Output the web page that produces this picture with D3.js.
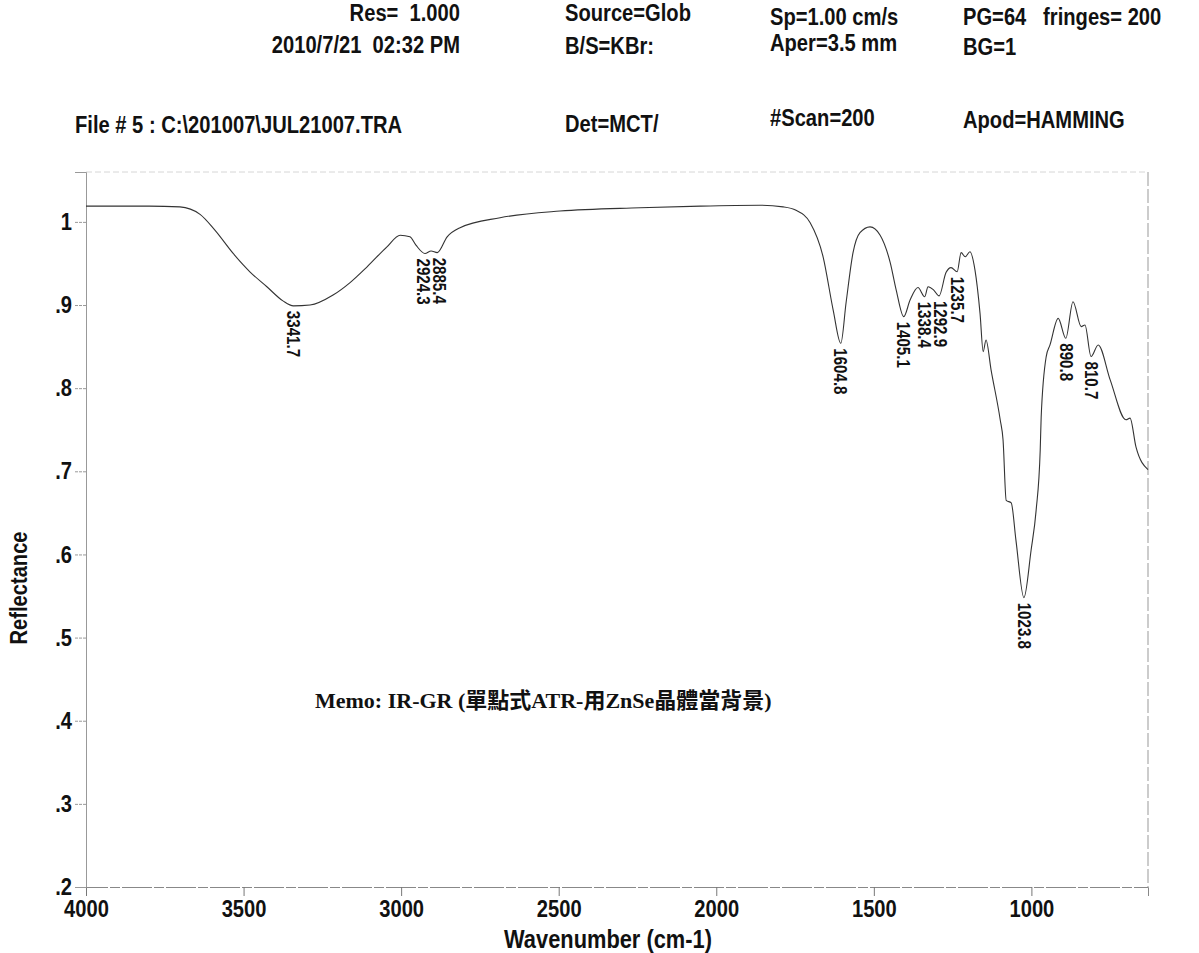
<!DOCTYPE html>
<html>
<head>
<meta charset="utf-8">
<script src="https://cdn.jsdelivr.net/npm/d3@7"></script>
<style>
  body { margin: 0; background: #fff; }
  text { font-family: 'Liberation Sans', Arial, sans-serif; font-weight: bold; fill: #111; white-space: pre; }
</style>
</head>
<body>
<div id="chart"></div>
<script>
// spectrum (wavenumber cm-1, reflectance)
var wavenumbers = [4000, 3900, 3800, 3702, 3638, 3591, 3533, 3480, 3426, 3375, 3341.7, 3289, 3216, 3162, 3108,
  3045, 3003, 2972, 2953, 2924.3, 2905, 2885.4, 2854, 2813, 2686, 2496, 2242, 2051, 1861, 1788, 1747, 1702,
  1661, 1629, 1604.8, 1588, 1566, 1544, 1512, 1480, 1448, 1429, 1405.1, 1385, 1360, 1338.4, 1328, 1310,
  1292.9, 1271, 1255, 1235.7, 1223, 1210, 1195, 1179, 1163, 1153, 1144, 1128, 1099, 1090, 1080, 1064, 1049,
  1023.8, 1001, 985, 972, 969, 953, 941, 915, 890.8, 868, 842, 830, 810.7, 788, 750, 700, 687, 668, 630];
var reflectance = [1.019, 1.019, 1.019, 1.018, 1.009, 0.990, 0.962, 0.940, 0.922, 0.905, 0.899, 0.900, 0.912, 0.927, 0.946,
  0.970, 0.984, 0.982, 0.972, 0.962, 0.965, 0.963, 0.982, 0.993, 1.005, 1.013, 1.017, 1.019, 1.020, 1.018, 1.014, 0.999,
  0.958, 0.894, 0.854, 0.903, 0.963, 0.987, 0.994, 0.984, 0.951, 0.918, 0.886, 0.906, 0.921, 0.910, 0.922, 0.918,
  0.911, 0.939, 0.945, 0.940, 0.963, 0.958, 0.964, 0.942, 0.890, 0.844, 0.858, 0.822, 0.762, 0.738, 0.665, 0.662, 0.617,
  0.548, 0.605, 0.653, 0.726, 0.765, 0.838, 0.852, 0.884, 0.860, 0.904, 0.874, 0.876, 0.838, 0.852, 0.810, 0.762, 0.764, 0.729, 0.702];

var peakLabels = [3341.7, 2924.3, 2885.4, 1604.8, 1405.1, 1338.4, 1292.9, 1235.7, 1023.8, 890.8, 810.7];

var xTicks = [4000, 3500, 3000, 2500, 2000, 1500, 1000];
var yTicks = [0.2, 0.3, 0.4, 0.5, 0.6, 0.7, 0.8, 0.9, 1];

// header block, one array per column (top to bottom)
var headerCol1 = ['Res=  1.000', '2010/7/21  02:32 PM', 'File # 5 : C:\\201007\\JUL21007.TRA'];
var headerCol2 = ['Source=Glob', 'B/S=KBr:', 'Det=MCT/'];
var headerCol3 = ['Sp=1.00 cm/s', 'Aper=3.5 mm', '#Scan=200'];
var headerCol4 = ['PG=64   fringes= 200', 'BG=1', 'Apod=HAMMING'];

var memoText = 'Memo: IR-GR (單點式ATR-用ZnSe晶體當背景)';
var xTitle = 'Wavenumber (cm-1)';
var yTitle = 'Reflectance';

var W = 1199, H = 953;
var plot = {left: 86, right: 1148, top: 172, bottom: 887};
var narrow = 0.84; // printer font is a condensed bold sans

var svg = d3.select('#chart').append('svg')
  .attr('width', W)
  .attr('height', H);

var x = d3.scaleLinear().domain([4000, 630]).range([plot.left, plot.right]);
var y = d3.scaleLinear().domain([0.2, 1.06]).range([plot.bottom, plot.top]);

// frame: faint dashed top, dashed right
svg.append('line')
  .attr('x1', plot.left).attr('x2', plot.right)
  .attr('y1', plot.top).attr('y2', plot.top)
  .style('stroke', '#d6d6d6').style('stroke-dasharray', '6,3');
svg.append('line')
  .attr('x1', plot.right).attr('x2', plot.right)
  .attr('y1', plot.top).attr('y2', plot.bottom)
  .style('stroke', '#999').style('stroke-dasharray', '14,3');

// x axis
var xAxis = svg.append('g')
  .attr('transform', 'translate(0,' + plot.bottom + ')')
  .call(d3.axisBottom(x).tickValues(xTicks).tickSize(9).tickPadding(4).tickFormat(d3.format('d')));
xAxis.select('.domain').style('stroke', '#888').style('stroke-dasharray', '30,2,10,2');
xAxis.selectAll('.tick line').style('stroke', '#777');
xAxis.selectAll('.tick text')
  .attr('transform', 'scale(' + narrow + ',1)')
  .style('font-size', '24px').style('fill', '#111');

// y axis
var yAxis = svg.append('g')
  .attr('transform', 'translate(' + plot.left + ',0)')
  .call(d3.axisLeft(y).tickValues(yTicks).tickSize(11).tickPadding(3)
    .tickFormat(function (d) { return d === 1 ? '1' : d3.format('.1f')(d).replace(/^0/, ''); }));
yAxis.select('.domain').style('stroke', '#999');
yAxis.selectAll('.tick line').style('stroke', '#999').style('stroke-dasharray', '3,1');
yAxis.selectAll('.tick text')
  .attr('x', -14 / narrow)
  .attr('transform', 'scale(' + narrow + ',1)')
  .style('font-size', '24px').style('fill', '#111');

// spectrum
var points = wavenumbers.map(function (w, i) { return [w, reflectance[i]]; });
var line = d3.line()
  .x(function (d) { return x(d[0]); })
  .y(function (d) { return y(d[1]); })
  .curve(d3.curveMonotoneX);

svg.append('path')
  .datum(points)
  .attr('d', line)
  .style('fill', 'none')
  .style('stroke', '#333')
  .style('stroke-width', 1.1);

// peak labels, rotated, hung below each minimum; nudge neighbours that collide
var labels = peakLabels.map(function (p) {
  var i = wavenumbers.indexOf(p);
  return {text: d3.format('.1f')(p), px: x(p), py: y(reflectance[i]) + 5};
});
labels.sort(function (a, b) { return a.px - b.px; });
for (var k = 1; k < labels.length; k++) {
  var gap = labels[k].px - labels[k - 1].px;
  if (gap < 16) {
    labels[k - 1].px -= (16 - gap) / 2;
    labels[k].px += (16 - gap) / 2;
  }
}
svg.selectAll('.peak')
  .data(labels)
  .enter()
  .append('text')
  .attr('class', 'peak')
  .attr('transform', function (d) {
    return 'translate(' + d.px + ',' + d.py + ') rotate(90) scale(' + narrow + ',1)';
  })
  .attr('dy', '0.35em')
  .style('font-size', '18px')
  .text(function (d) { return d.text; });

// header
var headerCols = [
  {lines: headerCol1, x: 460, anchor: 'end', rows: [21, 53, 133]},
  {lines: headerCol2, x: 565, anchor: 'start', rows: [21, 54, 132]},
  {lines: headerCol3, x: 770, anchor: 'start', rows: [25, 51, 126]},
  {lines: headerCol4, x: 963, anchor: 'start', rows: [25, 55, 128]}
];
headerCols.forEach(function (c, ci) {
  svg.selectAll('.hdr' + ci)
    .data(c.lines)
    .enter()
    .append('text')
    .attr('transform', function (d, i) {
      var hx = (ci === 0 && i === 2) ? 75 : c.x;
      return 'translate(' + hx + ',' + c.rows[i] + ') scale(' + narrow + ',1)';
    })
    .style('text-anchor', function (d, i) { return (ci === 0 && i === 2) ? 'start' : c.anchor; })
    .style('font-size', '24px')
    .text(function (d) { return d; });
});

// memo
svg.append('text')
  .attr('x', 315)
  .attr('y', 708)
  .style('font-family', "'Liberation Serif', 'Noto Sans CJK TC', serif")
  .style('font-size', '22px')
  .text(memoText);

// axis titles
svg.append('text')
  .attr('transform', 'translate(608,948) scale(' + narrow + ',1)')
  .style('text-anchor', 'middle')
  .style('font-size', '26px')
  .text(xTitle);

svg.append('text')
  .attr('transform', 'translate(27,588) rotate(-90) scale(' + narrow + ',1)')
  .style('text-anchor', 'middle')
  .style('font-size', '24px')
  .text(yTitle);
</script>
</body>
</html>
